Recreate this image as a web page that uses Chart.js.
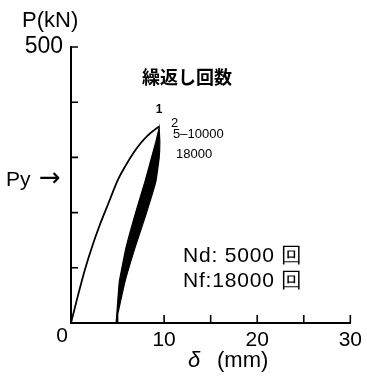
<!DOCTYPE html>
<html><head><meta charset="utf-8">
<script src="https://cdn.jsdelivr.net/npm/chart.js@4.4.1/dist/chart.umd.min.js"></script>
<style>html,body{margin:0;padding:0;background:#fff;}canvas{display:block;}</style>
</head><body>
<canvas id="c" width="367" height="381"></canvas>
<script>
// ---- data ----
// first cycle loading curve
const firstLoadDisp  = [0, 0.75, 1.5, 2.3, 3.1, 4.0, 5.0, 5.9, 6.7, 7.5, 8.2, 8.9, 9.47];
const firstLoadForce = [0, 50, 97, 140, 178, 216, 258, 286, 308, 326, 339, 349, 356];
// later cycles (2 .. 18000): loading edge of the band
const cycLoadDisp  = [4.85, 5.19, 5.9, 6.87, 7.94, 8.64, 9.11, 9.47];
const cycLoadForce = [0, 75, 136, 196, 256, 299, 328, 354];
// unloading edge of the band (also the first-cycle unloading)
const cycUnloadDisp  = [9.47, 9.54, 9.47, 9.11, 8.04, 6.87, 5.8, 4.95, 4.85];
const cycUnloadForce = [354, 328, 299, 256, 196, 136, 75, 10, 0];
// axes
const xTickLabels = ['0', '10', '20', '30'];
const xMinorTicks = [5, 10, 15, 20, 25, 30];
const yTicks = [100, 200, 300, 400, 500];
const yTickLabels = ['500'];
const cycleLabels = ['1', '2', '5\u201310000', '18000'];
const infoLabels = ['Nd: 5000 \u56de', 'Nf:18000 \u56de'];

const pts = (xs, ys) => xs.map((x, i) => ({x, y: ys[i]}));

const FONT = '"Liberation Sans", Arial, sans-serif';
const CJK = '"Noto Sans CJK JP", sans-serif';

const deco = {
  id: 'deco',
  afterDraw(chart) {
    const ctx = chart.ctx, xs = chart.scales.x, ys = chart.scales.y;
    const x0 = xs.getPixelForValue(0), y0 = ys.getPixelForValue(0);
    ctx.save();
    ctx.strokeStyle = '#000';
    ctx.lineWidth = 1.6;
    ctx.beginPath();
    xMinorTicks.forEach(v => { const p = xs.getPixelForValue(v); ctx.moveTo(p, y0); ctx.lineTo(p, y0 - 8); });
    yTicks.forEach(v => { const p = ys.getPixelForValue(v); ctx.moveTo(x0, p); ctx.lineTo(x0 + 7, p); });
    ctx.stroke();
    ctx.fillStyle = '#000';
    ctx.textBaseline = 'middle';
    ctx.textAlign = 'left';
    ctx.font = '22px ' + FONT;
    ctx.fillText('P(kN)', 22, 21);
    ctx.font = '21px ' + FONT;
    ctx.fillText('Py', 6, 180);
    ctx.font = '26px "DejaVu Sans", sans-serif';
    ctx.fillText('\u2192', 39, 179);
    ctx.font = '21px ' + FONT;
    ctx.textAlign = 'center';
    ctx.fillText(xTickLabels[0], 62, 336);
    ctx.textAlign = 'left';
    ctx.font = 'italic 22px ' + FONT;
    ctx.fillText('\u03b4', 188, 361);
    ctx.font = '22px ' + FONT;
    ctx.fillText('(mm)', 217, 361);
    ctx.font = 'bold 18px ' + CJK;
    ctx.fillText('\u7e70\u8fd4\u3057\u56de\u6570', 142, 77);
    ctx.font = 'bold 12px ' + FONT;
    ctx.textAlign = 'center';
    ctx.fillText(cycleLabels[0], 159, 110);
    ctx.textAlign = 'left';
    ctx.font = '13px ' + FONT;
    ctx.fillText(cycleLabels[1], 171, 123);
    ctx.fillText(cycleLabels[2], 173, 134);
    ctx.fillText(cycleLabels[3], 176, 154);
    ctx.font = '21px ' + FONT;
    ctx.letterSpacing = '0.8px';
    ctx.fillText(infoLabels[0], 183, 256);
    ctx.fillText(infoLabels[1], 183, 281);
    ctx.restore();
  }
};

new Chart(document.getElementById('c'), {
  type: 'scatter',
  data: {
    datasets: [
      {
        data: pts(cycLoadDisp.concat(cycUnloadDisp), cycLoadForce.concat(cycUnloadForce)),
        showLine: true, borderColor: '#000', backgroundColor: '#000', borderWidth: 1.2,
        fill: 'shape', tension: 0.1, pointRadius: 0
      },
      {
        data: pts(firstLoadDisp, firstLoadForce),
        showLine: true, borderColor: '#000', borderWidth: 1.8, fill: false,
        cubicInterpolationMode: 'monotone', pointRadius: 0
      }
    ]
  },
  options: {
    responsive: false, animation: false, devicePixelRatio: 1,
    layout: { padding: { left: 0, right: 15, top: 47, bottom: 0 } },
    plugins: { legend: { display: false }, tooltip: { enabled: false } },
    scales: {
      x: {
        type: 'linear', min: 0, max: 30,
        afterFit: s => { s.height = 58; },
        grid: { drawOnChartArea: false, drawTicks: false },
        border: { display: true, color: '#000', width: 2 },
        ticks: { stepSize: 10, padding: 5, color: '#000', font: { family: FONT, size: 21 },
          callback: v => (v === 0 ? '' : xTickLabels[v / 10]) }
      },
      y: {
        type: 'linear', min: 0, max: 500,
        afterFit: s => { s.width = 71; },
        grid: { drawOnChartArea: false, drawTicks: false },
        border: { display: true, color: '#000', width: 2 },
        ticks: { stepSize: 100, padding: 8, color: '#000', font: { family: FONT, size: 23 },
          callback: v => (v === 500 ? yTickLabels[0] : '') }
      }
    }
  },
  plugins: [deco]
});
</script>
</body></html>
